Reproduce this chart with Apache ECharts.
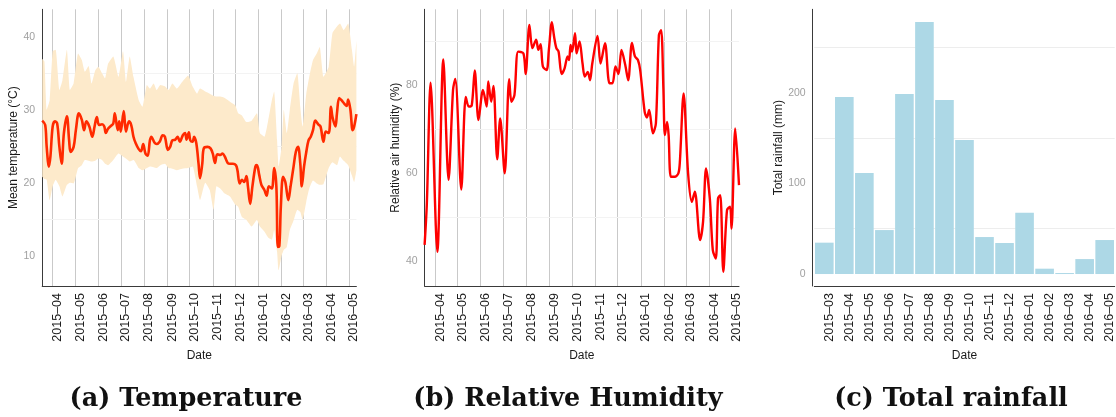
<!DOCTYPE html>
<html><head><meta charset="utf-8">
<script src="https://cdn.jsdelivr.net/npm/echarts@6/dist/echarts.min.js"></script>
<style>html,body{margin:0;padding:0;background:#fff}#c{width:1116px;height:417px}</style>
</head><body><div id="c"></div>
<script>
// ---------- data ----------
const startDate = '2015-03-18';
const endDate = '2016-05-11';

const tempDates = ['2015-03-18','2015-03-22','2015-03-24','2015-03-27','2015-03-29','2015-04-01','2015-04-04','2015-04-07','2015-04-10','2015-04-13','2015-04-16','2015-04-20','2015-04-23','2015-04-25','2015-04-29','2015-05-02','2015-05-06','2015-05-10','2015-05-13','2015-05-16','2015-05-20','2015-05-24','2015-05-27','2015-05-30','2015-06-02','2015-06-06','2015-06-09','2015-06-11','2015-06-14','2015-06-18','2015-06-21','2015-06-23','2015-06-27','2015-06-29','2015-07-01','2015-07-05','2015-07-08','2015-07-12','2015-07-15','2015-07-18','2015-07-21','2015-07-25','2015-07-28','2015-07-31','2015-08-03','2015-08-06','2015-08-09','2015-08-11','2015-08-15','2015-08-18','2015-08-22','2015-08-26','2015-08-29','2015-09-02','2015-09-05','2015-09-08','2015-09-12','2015-09-15','2015-09-18','2015-09-22','2015-09-25','2015-09-27','2015-09-30','2015-10-02','2015-10-05','2015-10-07','2015-10-10','2015-10-13','2015-10-15','2015-10-18','2015-10-20','2015-10-25','2015-10-29','2015-11-01','2015-11-04','2015-11-07','2015-11-11','2015-11-14','2015-11-17','2015-11-21','2015-11-24','2015-11-28','2015-12-02','2015-12-04','2015-12-07','2015-12-10','2015-12-13','2015-12-16','2015-12-18','2015-12-21','2015-12-24','2015-12-28','2015-12-30','2016-01-02','2016-01-05','2016-01-09','2016-01-12','2016-01-15','2016-01-19','2016-01-22','2016-01-25','2016-01-27','2016-01-29','2016-01-31','2016-02-03','2016-02-06','2016-02-10','2016-02-13','2016-02-17','2016-02-20','2016-02-23','2016-02-26','2016-02-28','2016-03-02','2016-03-05','2016-03-08','2016-03-11','2016-03-14','2016-03-17','2016-03-21','2016-03-24','2016-03-28','2016-03-31','2016-04-04','2016-04-07','2016-04-09','2016-04-13','2016-04-15','2016-04-18','2016-04-21','2016-04-25','2016-04-28','2016-04-30','2016-05-03','2016-05-06','2016-05-08','2016-05-11'];
const tempMean = [28.5,27.9,24.9,22.2,23.6,27.7,28.4,28.1,24.9,22.6,26.8,29.1,25.8,24.2,24.9,27.2,29.5,28.6,27.2,28.4,27.7,26.3,27.7,29.0,27.9,28.0,27.7,26.8,27.4,27.8,28.1,29.5,27.2,28.4,27.0,29.8,27.0,28.4,27.9,26.3,25.4,24.6,24.3,25.3,24.0,23.7,25.8,26.3,25.5,25.3,25.6,26.5,26.3,24.5,24.9,25.8,25.9,26.3,25.6,26.5,26.8,25.9,26.9,25.8,25.6,26.3,25.4,22.6,20.6,22.6,24.7,24.9,24.7,24.0,22.7,23.9,23.8,24.0,23.6,22.7,22.6,22.6,22.4,21.7,19.9,20.4,20.1,20.9,19.5,17.1,19.5,22.2,22.4,21.1,19.7,19.0,18.2,19.5,19.2,22.0,19.5,11.2,11.3,16.7,20.8,20.1,17.6,19.5,22.2,24.2,24.9,22.6,19.5,22.2,24.2,25.8,26.3,27.2,28.5,28.0,27.7,25.6,27.0,26.8,30.4,29.0,27.7,29.5,31.6,31.3,30.8,30.5,31.4,30.0,27.2,27.7,29.4];

const bandDates = ['2015-03-18','2015-03-21','2015-03-24','2015-03-28','2015-04-01','2015-04-05','2015-04-10','2015-04-14','2015-04-20','2015-04-24','2015-04-29','2015-05-05','2015-05-10','2015-05-14','2015-05-19','2015-05-23','2015-05-28','2015-06-01','2015-06-06','2015-06-10','2015-06-14','2015-06-21','2015-06-28','2015-07-04','2015-07-08','2015-07-13','2015-07-18','2015-07-25','2015-07-30','2015-08-05','2015-08-09','2015-08-14','2015-08-18','2015-08-23','2015-08-29','2015-09-03','2015-09-08','2015-09-14','2015-09-21','2015-09-29','2015-10-05','2015-10-11','2015-10-15','2015-10-22','2015-10-28','2015-11-02','2015-11-06','2015-11-11','2015-11-17','2015-11-24','2015-12-01','2015-12-05','2015-12-10','2015-12-16','2015-12-23','2015-12-30','2016-01-03','2016-01-09','2016-01-14','2016-01-19','2016-01-22','2016-01-26','2016-01-28','2016-02-01','2016-02-04','2016-02-08','2016-02-12','2016-02-17','2016-02-22','2016-02-26','2016-02-29','2016-03-05','2016-03-09','2016-03-14','2016-03-19','2016-03-23','2016-03-28','2016-04-04','2016-04-09','2016-04-15','2016-04-19','2016-04-24','2016-04-30','2016-05-05','2016-05-08','2016-05-11'];
const tempMax = [37.0,36.6,30.0,31.3,38.0,38.2,32.7,34.0,38.2,32.7,33.6,37.7,36.8,35.2,36.0,33.6,35.4,35.9,35.0,34.3,36.3,37.3,34.5,38.0,33.8,37.3,34.5,31.3,30.4,33.4,32.9,33.6,32.7,33.4,33.2,32.7,33.6,32.9,33.8,34.7,33.2,32.2,32.9,32.5,32.2,31.9,31.8,31.8,31.6,31.1,30.6,29.5,29.2,28.3,28.5,29.5,26.8,26.3,28.5,31.3,32.5,25.8,22.2,24.9,30.0,26.8,30.0,33.6,35.0,30.4,27.7,32.2,34.5,36.8,37.7,38.6,34.5,35.9,40.5,41.4,41.8,40.9,41.8,38.2,35.9,39.5];
const tempMin = [20.8,20.5,20.4,17.6,19.5,20.4,19.5,18.1,19.7,20.0,19.9,22.0,22.4,23.1,23.0,22.9,23.0,23.3,23.1,22.6,22.4,23.1,24.0,23.6,23.3,22.9,23.1,22.0,21.7,22.0,22.2,22.1,22.0,22.4,22.6,22.0,21.9,21.7,21.9,22.0,22.2,19.5,17.6,20.0,19.0,16.3,19.5,19.2,18.5,18.1,17.0,16.7,15.3,14.9,14.0,14.9,14.0,13.3,12.5,12.2,13.5,10.5,8.0,10.0,10.8,11.2,13.5,14.8,16.3,16.0,14.9,17.4,19.2,20.3,19.9,19.7,19.8,22.0,22.8,22.4,23.6,23.0,22.4,21.0,20.1,21.7];

const humDates = ['2015-03-18','2015-03-21','2015-03-26','2015-04-04','2015-04-12','2015-04-19','2015-04-25','2015-04-28','2015-05-06','2015-05-12','2015-05-16','2015-05-20','2015-05-24','2015-05-29','2015-06-04','2015-06-09','2015-06-11','2015-06-15','2015-06-18','2015-06-23','2015-06-27','2015-07-03','2015-07-09','2015-07-12','2015-07-16','2015-07-21','2015-07-28','2015-07-31','2015-08-05','2015-08-09','2015-08-14','2015-08-17','2015-08-20','2015-08-23','2015-08-28','2015-08-31','2015-09-04','2015-09-07','2015-09-10','2015-09-13','2015-09-17','2015-09-21','2015-09-25','2015-09-27','2015-09-29','2015-10-01','2015-10-05','2015-10-07','2015-10-11','2015-10-15','2015-10-18','2015-10-22','2015-10-25','2015-10-28','2015-11-04','2015-11-08','2015-11-14','2015-11-20','2015-11-24','2015-11-28','2015-12-02','2015-12-06','2015-12-11','2015-12-15','2015-12-20','2015-12-24','2015-12-28','2015-12-31','2016-01-06','2016-01-09','2016-01-12','2016-01-17','2016-01-21','2016-01-25','2016-01-28','2016-01-31','2016-02-02','2016-02-05','2016-02-07','2016-02-10','2016-02-15','2016-02-20','2016-02-22','2016-02-27','2016-03-04','2016-03-09','2016-03-13','2016-03-20','2016-03-24','2016-03-28','2016-04-02','2016-04-06','2016-04-10','2016-04-13','2016-04-16','2016-04-20','2016-04-25','2016-04-29','2016-05-01','2016-05-06','2016-05-11'];
const humidity = [43.6,53.0,80.5,42.0,85.8,58.4,78.9,81.4,56.2,77.3,75.1,75.4,83.3,72.0,78.9,75.1,80.8,76.2,79.8,63.1,72.4,59.9,81.3,76.2,77.7,87.6,87.2,82.5,93.7,88.4,90.3,88.0,89.3,84.2,83.4,88.0,94.3,91.0,88.4,87.6,82.5,83.8,86.5,85.7,89.1,87.6,91.8,87.2,89.9,84.9,81.9,83.0,81.1,84.9,91.2,84.9,89.5,80.4,80.4,84.2,82.5,88.0,84.6,81.1,89.6,86.5,85.7,83.4,73.9,72.6,74.3,69.0,71.3,91.4,92.5,79.2,68.6,71.6,68.6,59.1,59.1,59.9,62.5,78.1,59.9,53.4,55.7,44.7,48.9,61.0,54.2,42.4,40.5,54.2,54.9,37.5,51.5,52.3,47.3,70.1,57.2];

const rainMonths = ['2015-03','2015-04','2015-05','2015-06','2015-07','2015-08','2015-09','2015-10','2015-11','2015-12','2016-01','2016-02','2016-03','2016-04','2016-05'];
const rainfall = [34.6,195.2,111.4,48.5,198.5,277.9,191.9,147.8,40.8,34.2,67.6,5.9,1.1,16.5,37.5];

const captions = ['(a) Temperature', '(b) Relative Humidity', '(c) Total rainfall'];
const yNames = ['Mean temperature (°C)', 'Relative air humidity (%)', 'Total rainfall (mm)'];
const xName = 'Date';
const faintTemp = [15, 25, 35];
const faintHum = [50, 70, 90];
const faintRain = [50, 150, 250];

// ---------- helpers ----------
const days = [];
for (let t = Date.parse(startDate + 'T00:00:00Z'); t <= Date.parse(endDate + 'T00:00:00Z'); t += 86400000) {
  days.push(new Date(t).toISOString().slice(0, 10));
}
const isMonthStart = (i, v) => String(v).slice(8) === '01';
const dashLabel = v => String(v).slice(0, 4) + '\u2013' + String(v).slice(5, 7);
const pairs = (d, v) => d.map((x, i) => [x, v[i]]);

const FONT = 'Liberation Sans, Arial, sans-serif';
const AXC = '#3a3a3a';
const GRIDC = '#c9c9c9';
const YLAB = '#a0a0a0';
const TXT = '#1a1a1a';

function faint(vals, color) {
  return { silent: true, symbol: 'none', z: 0, label: { show: false },
    lineStyle: { color: color, width: 1, type: 'solid' },
    data: vals.map(v => ({ yAxis: v })) };
}

const xLabelBase = { rotate: 90, fontSize: 12.5, color: TXT, margin: 7, fontFamily: FONT,
  verticalAlign: 'top', lineHeight: 10 };

function dayAxis(gi) {
  return {
    type: 'category', gridIndex: gi, data: days, boundaryGap: false,
    name: xName, nameLocation: 'middle', nameGap: 58,
    nameTextStyle: { fontSize: 12, color: TXT, fontFamily: FONT },
    axisLine: { show: true, onZero: false, lineStyle: { color: AXC, width: 1 } },
    axisTick: { show: false },
    axisLabel: Object.assign({ interval: isMonthStart, formatter: dashLabel }, xLabelBase),
    splitLine: { show: true, interval: isMonthStart, lineStyle: { color: GRIDC, width: 1 } }
  };
}

function valAxis(gi, min, max, split, name, gap, offset) {
  return {
    type: 'value', gridIndex: gi, min: min, max: max, splitNumber: split, offset: offset || 0,
    name: name, nameLocation: 'middle', nameGap: gap,
    nameTextStyle: { fontSize: 12, color: TXT, fontFamily: FONT },
    axisLine: { show: true, onZero: false, lineStyle: { color: AXC, width: 1 } },
    axisTick: { show: false },
    axisLabel: { showMinLabel: false, showMaxLabel: false, color: YLAB, fontSize: 10.5,
      margin: 7, fontFamily: FONT },
    splitLine: { show: false }
  };
}

const chart = echarts.init(document.getElementById('c'), null, { renderer: 'canvas' });
chart.setOption({
  animation: false,
  backgroundColor: '#ffffff',
  title: captions.map((t, i) => ({
    text: t, left: [186, 568, 951][i], top: 386, textAlign: 'center', padding: 0,
    textStyle: { fontFamily: 'DejaVu Serif', fontWeight: 'bold', fontSize: 25.5, color: '#111' }
  })),
  grid: [
    { left: 42.2, top: 9.3, width: 314.2, height: 276.7 },
    { left: 424.6, top: 9.3, width: 314.4, height: 276.7 },
    { left: 814.3, top: 9.3, width: 305.4, height: 276.7 }
  ],
  xAxis: [
    dayAxis(0),
    dayAxis(1),
    {
      type: 'category', gridIndex: 2, data: rainMonths, boundaryGap: true,
      name: xName, nameLocation: 'middle', nameGap: 58,
      nameTextStyle: { fontSize: 12, color: TXT, fontFamily: FONT },
      axisLine: { show: true, onZero: false, lineStyle: { color: AXC, width: 1 } },
      axisTick: { show: false },
      axisLabel: Object.assign({ interval: 0, formatter: v => String(v).replace('-', '\u2013') }, xLabelBase),
      splitLine: { show: false }
    }
  ],
  yAxis: [
    valAxis(0, 5.84, 43.76, 5, yNames[0], 21),
    valAxis(1, 34.24, 97.24, 3, yNames[1], 21),
    valAxis(2, -13.2, 292.0, 3, yNames[2], 24, 1.6)
  ],
  series: [
    { type: 'line', xAxisIndex: 0, yAxisIndex: 0, stack: 'band', silent: true, z: 1,
      data: pairs(bandDates, tempMin), symbol: 'none', smooth: 0.15,
      lineStyle: { opacity: 0 }, markLine: faint(faintTemp, '#f3f3f3') },
    { type: 'line', xAxisIndex: 0, yAxisIndex: 0, stack: 'band', silent: true, z: 2,
      data: bandDates.map((d, i) => [d, +(tempMax[i] - tempMin[i]).toFixed(2)]),
      symbol: 'none', smooth: 0.15, lineStyle: { opacity: 0 },
      areaStyle: { color: '#fdeacb', opacity: 1 } },
    { type: 'line', xAxisIndex: 0, yAxisIndex: 0, z: 3,
      data: pairs(tempDates, tempMean), symbol: 'none', smooth: 0.35,
      lineStyle: { color: '#ff2a00', width: 2.6 } },
    { type: 'line', xAxisIndex: 1, yAxisIndex: 1, z: 3,
      data: pairs(humDates, humidity), symbol: 'none', smooth: 0.3,
      lineStyle: { color: '#ff0000', width: 2.4 }, markLine: faint(faintHum, '#f3f3f3') },
    { type: 'bar', xAxisIndex: 2, yAxisIndex: 2, z: 2,
      data: rainfall, barCategoryGap: '7%', itemStyle: { color: '#add8e6' },
      markLine: faint(faintRain, '#ededed') }
  ]
});
</script>
</body></html>
